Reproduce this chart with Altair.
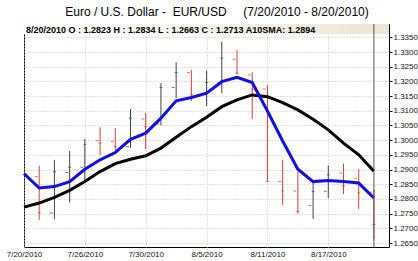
import altair as alt
import pandas as pd

dates = ["7/20/2010", "7/21/2010", "7/22/2010", "7/23/2010", "7/26/2010", "7/27/2010",
         "7/28/2010", "7/29/2010", "7/30/2010", "8/2/2010", "8/3/2010", "8/4/2010",
         "8/5/2010", "8/6/2010", "8/9/2010", "8/10/2010", "8/11/2010", "8/12/2010",
         "8/13/2010", "8/16/2010", "8/17/2010", "8/18/2010", "8/19/2010", "8/20/2010"]
opens = [None, 1.2876, 1.2752, 1.2890, 1.2908, 1.2998, 1.2995, 1.2978, 1.3072, 1.3055,
         1.3179, 1.3230, 1.3156, 1.3195, 1.3275, 1.3222, 1.3174, 1.2859, 1.2827, 1.2777,
         1.2826, 1.2888, 1.2870, 1.2823]
highs = [None, 1.2913, 1.2933, 1.2963, 1.3003, 1.3044, 1.3041, 1.3106, 1.3092, 1.3194,
         1.3265, 1.3239, 1.3237, 1.3335, 1.3307, 1.3231, 1.3188, 1.2933, 1.2893, 1.2862,
         1.2914, 1.2920, 1.2901, 1.2834]
lows = [None, 1.2729, 1.2731, 1.2788, 1.2858, 1.2950, 1.2967, 1.2974, 1.2970, 1.3050,
        1.3143, 1.3133, 1.3116, 1.3160, 1.3224, 1.3071, 1.2859, 1.2780, 1.2750, 1.2732,
        1.2802, 1.2817, 1.2766, 1.2663]
closes = [None, 1.2753, 1.2892, 1.2908, 1.2986, 1.2990, 1.2978, 1.3075, 1.3046, 1.3179,
          1.3230, 1.3156, 1.3196, 1.3279, 1.3228, 1.3173, 1.2859, 1.2827, 1.2757, 1.2825,
          1.2882, 1.2845, 1.2821, 1.2713]
fast_avg = [1.2886, 1.2837, 1.2842, 1.2859, 1.2901, 1.2933, 1.2958, 1.3003, 1.3024, 1.3075,
            1.3134, 1.3145, 1.3160, 1.3199, 1.3214, 1.3196, 1.3099, 1.2997, 1.2901, 1.2859,
            1.2863, 1.2859, 1.2854, 1.2803]
sma10 = [1.2772, 1.2786, 1.2805, 1.2829, 1.2859, 1.2893, 1.2920, 1.2935, 1.2947, 1.2973,
         1.3010, 1.3046, 1.3078, 1.3114, 1.3137, 1.3154, 1.3148, 1.3128, 1.3103, 1.3071,
         1.3035, 1.2990, 1.2950, 1.2894]
x_label_idx = [0, 4, 8, 12, 16, 20]
y_ticks = [round(1.2650 + 0.005 * k, 4) for k in range(15)]
title_text = "Euro / U.S. Dollar -\u00a0 EUR/USD\u00a0\u00a0\u00a0\u00a0\u00a0(7/20/2010 - 8/20/2010)"
header_text = "8/20/2010 O : 1.2823 H : 1.2834 L : 1.2663 C : 1.2713 A10SMA: 1.2894"
cursor_idx = 23

W, H = 365, 223
LBL_FONT = "Liberation Sans"

df = pd.DataFrame({"i": list(range(len(dates))), "date": dates, "o": opens, "h": highs,
                   "l": lows, "c": closes, "fast": fast_avg, "sma": sma10})
bars = df.dropna(subset=["o"]).copy()
bars["dir"] = ["up" if c >= o else "down" for o, c in zip(bars["o"], bars["c"])]

label_js = "[" + ",".join("'%s'" % dates[k] for k in x_label_idx) + "]"
xscale = alt.Scale(domain=[0, 23.99], nice=False, zero=False)
yscale = alt.Scale(domain=[1.26364, 1.33953], nice=False, zero=False)

xaxis = alt.Axis(values=x_label_idx, labelExpr=label_js + "[datum.value/4]", title=None,
                 grid=True, gridColor="#c4c4c4", gridDash=[1, 2], domain=False, ticks=False,
                 labelPadding=3, labelFont=LBL_FONT, labelFontSize=8, labelColor="#111",
                 labelFlush=False, labelOverlap=False, tickCount=len(x_label_idx))
yaxis = alt.Axis(values=y_ticks, format=".4f", orient="right", title=None, grid=True,
                 gridColor="#c4c4c4", gridDash=[1, 2], domain=False, tickSize=3,
                 tickColor="#000", labelPadding=1, labelFont=LBL_FONT, labelFontSize=8,
                 labelColor="#111", labelOverlap=False, labelFlush=False,
                 tickCount=len(y_ticks))

col = alt.Color("dir:N", scale=alt.Scale(domain=["up", "down"], range=["#444444", "#e03a3a"]),
                legend=None)

grad = alt.Gradient(gradient="linear",
                    stops=[alt.GradientStop(color="#ffffff", offset=0),
                           alt.GradientStop(color="#ebe7d6", offset=1)],
                    x1=0, x2=1, y1=0, y2=0)

base = alt.Chart(bars)

header_box = alt.Chart(pd.DataFrame({"a": [0]})).mark_rect(color=grad).encode(
    x=alt.value(0), x2=alt.value(W), y=alt.value(0), y2=alt.value(10))

hl = base.mark_rule(strokeWidth=1).encode(
    x=alt.X("i:Q", scale=xscale, axis=xaxis),
    y=alt.Y("l:Q", scale=yscale, axis=yaxis),
    y2="h:Q", color=col)
open_tick = base.mark_tick(orient="horizontal", size=3, thickness=1, xOffset=-3).encode(
    x="i:Q", y="o:Q", color=col)
close_tick = base.mark_tick(orient="horizontal", size=3, thickness=1).encode(
    x="i:Q", y="c:Q", color=col)

line_sma = alt.Chart(df).mark_line(color="#000000", strokeWidth=3).encode(x="i:Q", y="sma:Q")
line_fast = alt.Chart(df).mark_line(color="#1010e6", strokeWidth=3).encode(x="i:Q", y="fast:Q")

cursor = alt.Chart(pd.DataFrame({"i": [cursor_idx]})).mark_rule(
    color="#555555", strokeWidth=1).encode(x="i:Q", y=alt.value(0), y2=alt.value(H))

header = alt.Chart(pd.DataFrame({"t": [header_text]})).mark_text(
    align="left", baseline="middle", font="Liberation Sans", fontSize=9, fontWeight="bold",
    color="#000").encode(text="t:N", x=alt.value(2), y=alt.value(5.5))

title = alt.Chart(pd.DataFrame({"t": [title_text]})).mark_text(
    align="center", baseline="alphabetic", font="Liberation Sans", fontSize=12,
    color="#000").encode(text="t:N", x=alt.value(193), y=alt.value(-8))

chart = alt.layer(header_box, hl, open_tick, close_tick, line_sma, line_fast, cursor,
                  header, title).properties(
    width=W, height=H, autosize=alt.AutoSizeParams(type="none"),
    padding={"left": 24, "top": 24, "right": 29, "bottom": 14},
    background="white"
).configure_view(stroke="#000000", strokeWidth=1)

chart.save("out.html", embed_options={"renderer": "svg", "actions": False})
